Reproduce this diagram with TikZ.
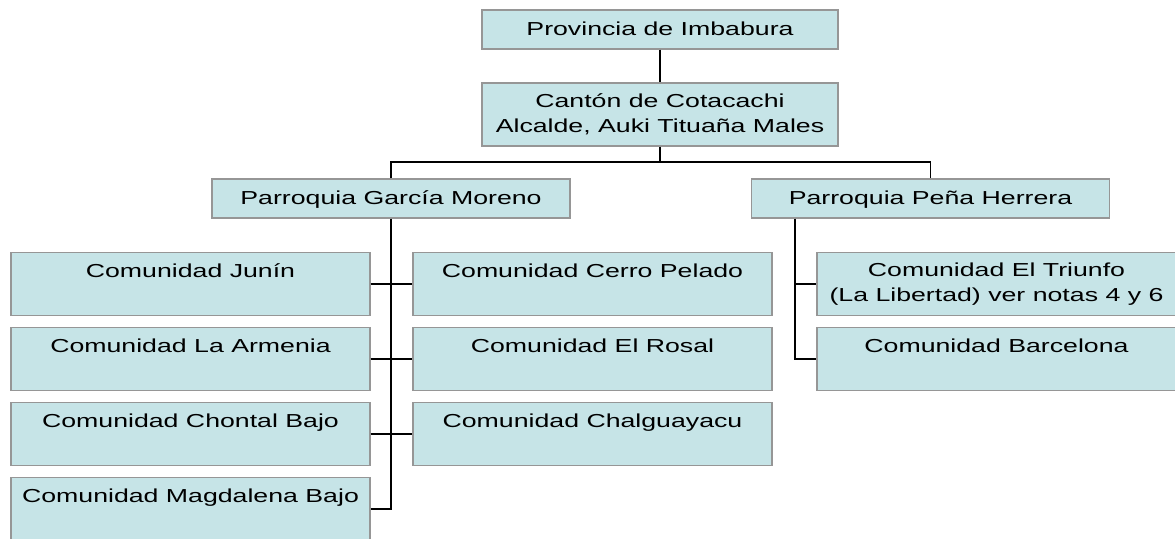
\documentclass[tikz,border=0pt]{standalone}
\usepackage{fontspec}
\setmainfont{Liberation Sans}[FakeStretch=1.42]
\definecolor{boxfill}{RGB}{198,228,231}
\definecolor{boxline}{RGB}{150,150,150}
\tikzset{
  orgbox/.style={draw=boxline,fill=boxfill,line width=1.3pt,inner xsep=0pt,inner ysep=0pt,
    align=center,font=\fontsize{18.8}{24.5}\selectfont},
  shortbox/.style={orgbox,minimum width=358pt,text height=25.7pt,text depth=13.3pt},
  tallbox/.style={orgbox,minimum width=359pt,text height=25pt,text depth=38pt},
  twobox/.style={orgbox,minimum width=359pt,minimum height=63pt},
  link/.style={line width=1.4pt}
}
\begin{document}
\begin{tikzpicture}[x=1pt,y=-1pt]
    \useasboundingbox (0,0) rectangle (1175,538);
    % top levels
    \node[shortbox,minimum width=356pt] (prov) at (660,29.5) {Provincia de Imbabura};
    \node[twobox,minimum width=356pt] (canton) at (660,114.5) {Cantón de Cotacachi\\Alcalde, Auki Tituaña Males};
    \node[shortbox] (garcia) at (391,198.5) {Parroquia García Moreno};
    \node[shortbox] (pena) at (930.5,198.5) {Parroquia Peña Herrera};
    % comunidades
    \foreach \N/\T [count=\i] in {junin/Comunidad Junín,armenia/Comunidad La Armenia,chontal/Comunidad Chontal Bajo,magdalena/Comunidad Magdalena Bajo}
    {\node[tallbox] (\N) at (190.5,{284+75*(\i-1)}) {\T};}
    \foreach \N/\T [count=\i] in {cerro/Comunidad Cerro Pelado,rosal/Comunidad El Rosal,chalg/Comunidad Chalguayacu}
    {\node[tallbox] (\N) at (592.5,{284+75*(\i-1)}) {\T};}
    \node[twobox] (triunfo) at (996.5,284) {Comunidad El Triunfo\\(La Libertad) ver notas 4 y 6};
    \node[tallbox] (barcelona) at (996.5,359) {Comunidad Barcelona};
    % links
    \coordinate (bar) at (660,162);
    \coordinate (penaspine) at (795,0);
    \draw[link] (prov) -- (canton);
    \draw[link] (canton) -- (bar);
    \draw[link] (garcia.north) |- (bar) -| (pena.north);
    \draw[link] (garcia.south) -- (garcia.south |- magdalena.east) -- (magdalena.east);
    \foreach \A/\B in {junin/cerro,armenia/rosal,chontal/chalg}
    {\draw[link] (\A.east) -- (\B.west);}
    \draw[link] (penaspine |- pena.south) |- (barcelona.west);
    \draw[link] (penaspine |- triunfo.west) -- (triunfo.west);
\end{tikzpicture}
\end{document}
